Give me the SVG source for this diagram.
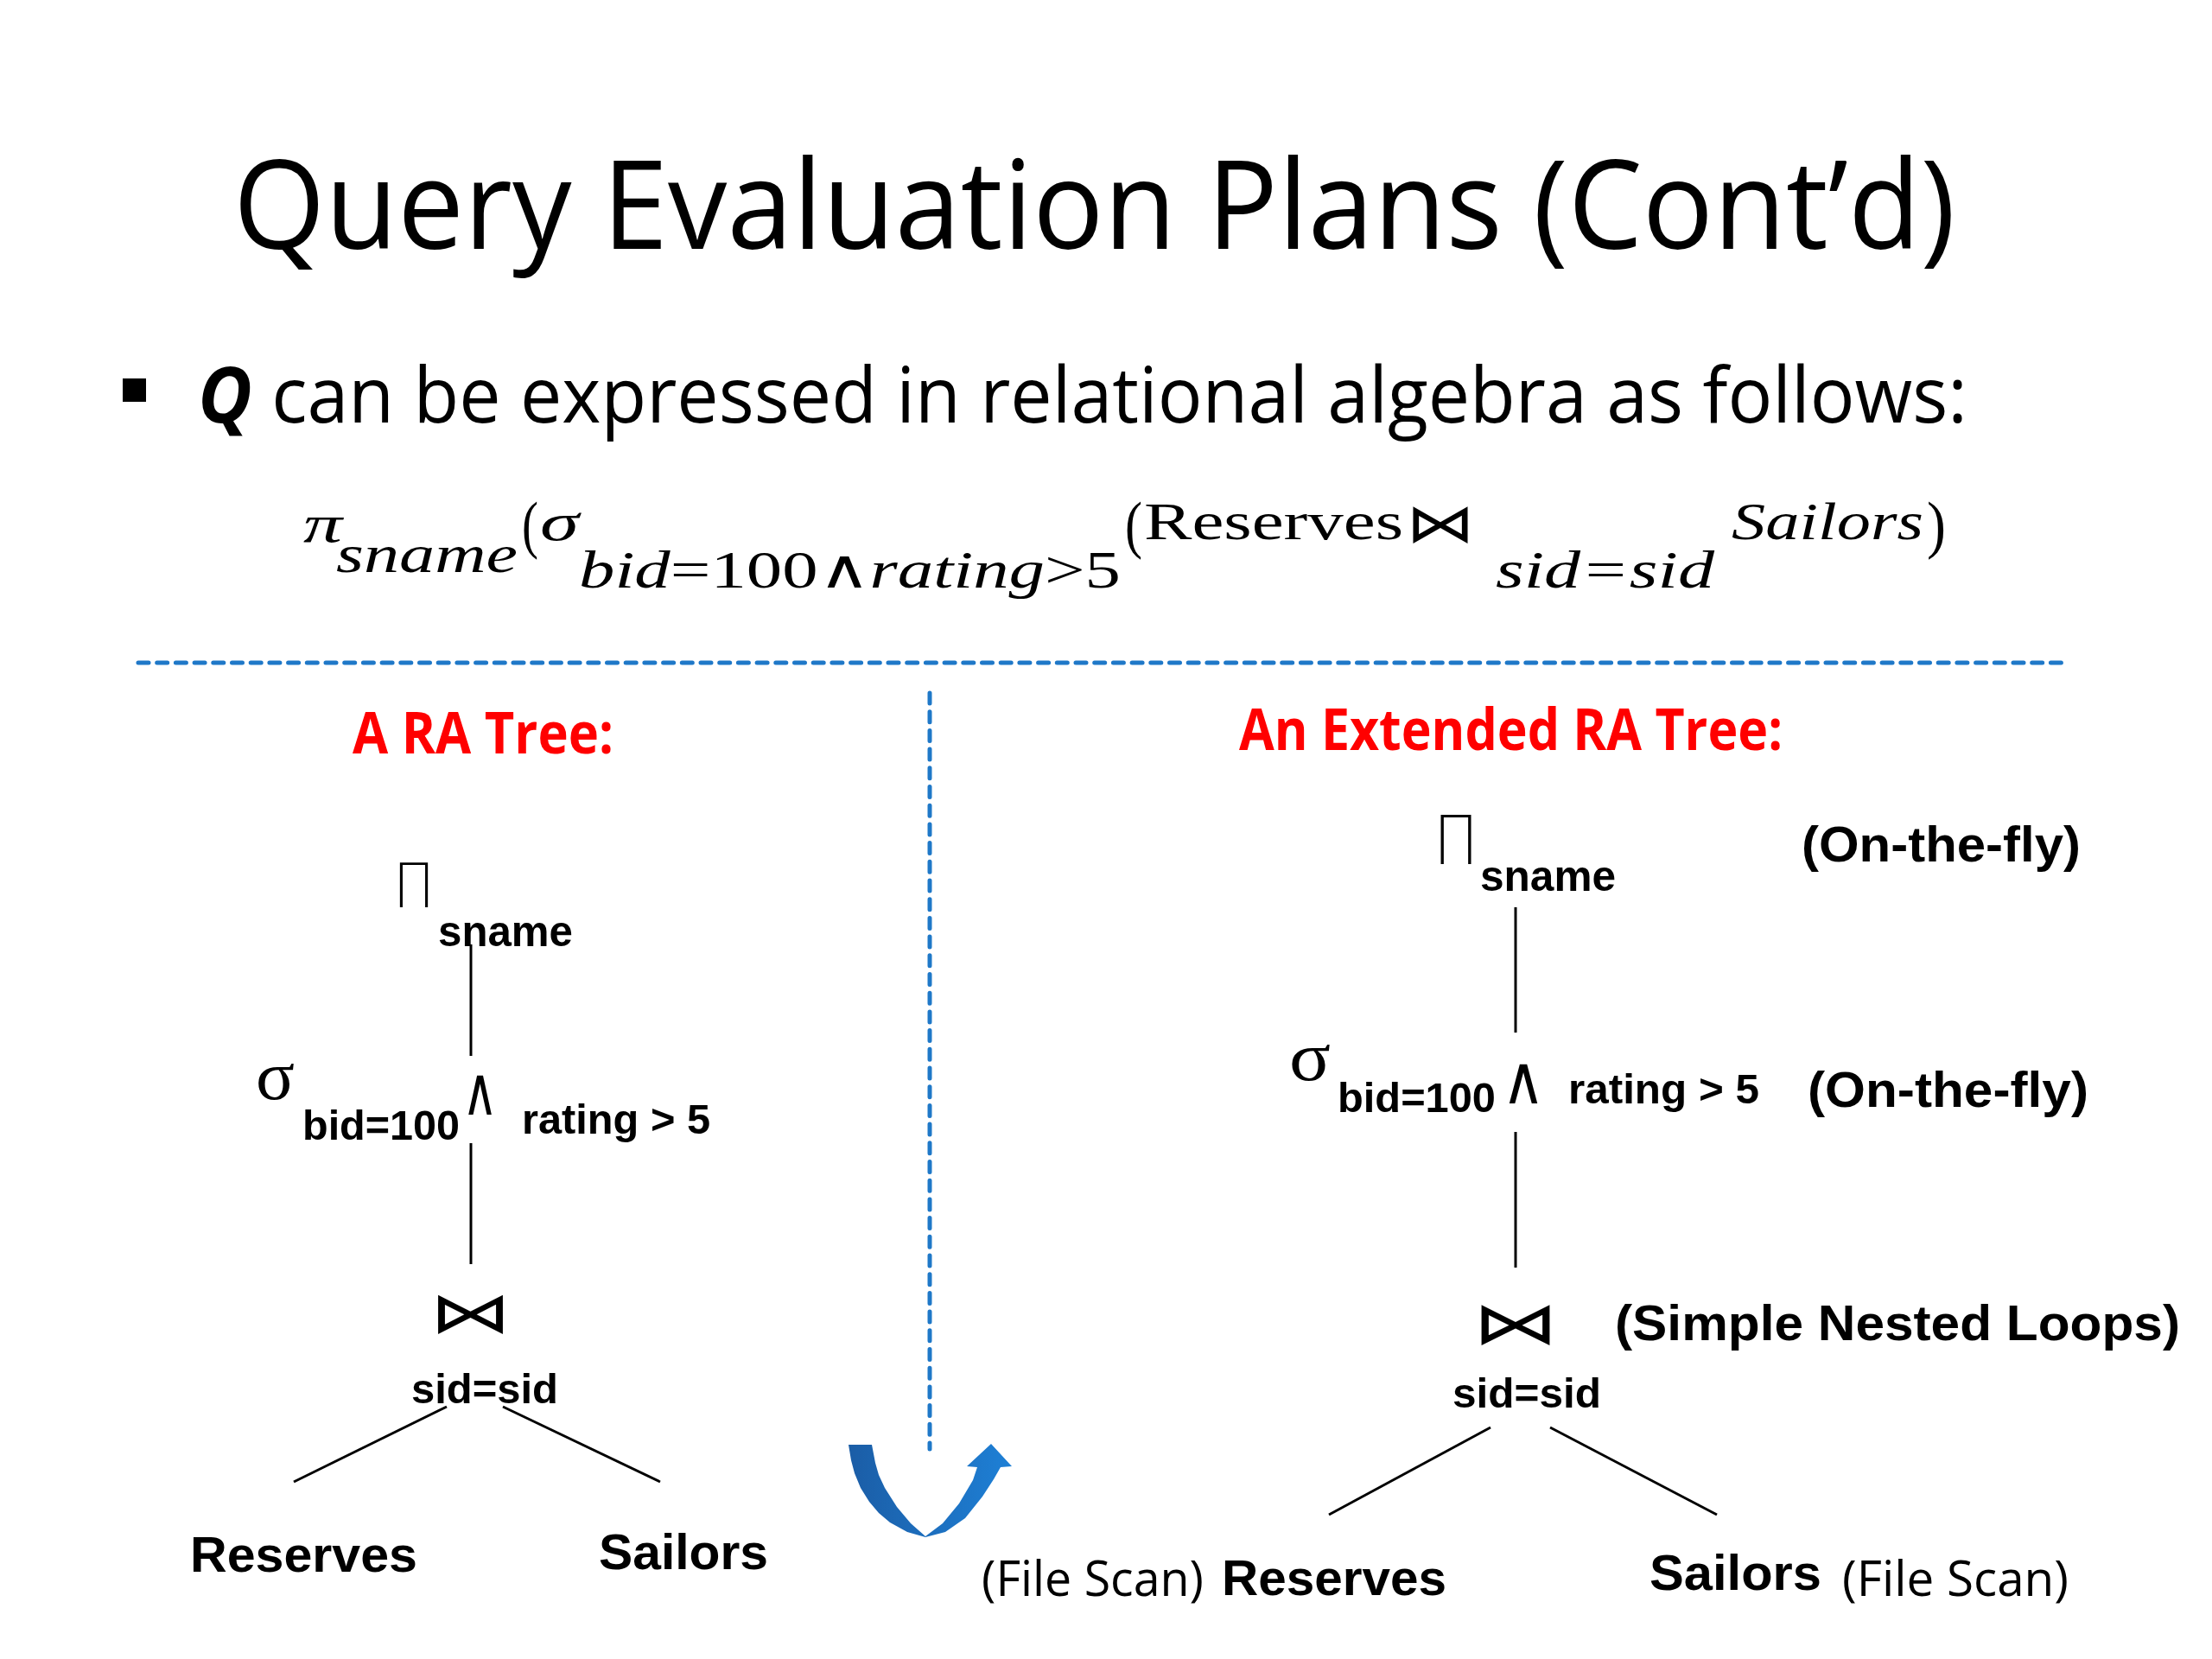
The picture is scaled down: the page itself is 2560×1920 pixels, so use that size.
<svg xmlns="http://www.w3.org/2000/svg" width="2560" height="1920" viewBox="0 0 2560 1920">
<defs>
<style>
.title{font-family:"Open Sans","Liberation Sans",sans-serif;fill:#000}
.red{font-family:"Open Sans","Liberation Sans",sans-serif;font-weight:bold;fill:#FF0000}
.lbl{font-family:"Liberation Sans",Arial,sans-serif;font-weight:bold;fill:#000}
.cal{font-family:"Open Sans","Liberation Sans",sans-serif;fill:#000}
.math{font-family:"Liberation Serif","Times New Roman",serif;fill:#000}
.it{font-style:italic}
.sym{font-family:"DejaVu Sans",sans-serif;font-weight:200;fill:#000}
.sig{font-family:"Liberation Serif",serif;fill:#000}
.edge{stroke:#000;stroke-width:3;fill:none}
.dash{stroke:#1F78C8;stroke-width:5;fill:none;stroke-linecap:round;stroke-dasharray:12 9.7}
</style>
<linearGradient id="ag" x1="0" y1="0" x2="1" y2="0">
<stop offset="0" stop-color="#1B5DA6"/>
<stop offset="1" stop-color="#1E80D6"/>
</linearGradient>
</defs>
<rect width="2560" height="1920" fill="#fff"/>

<g id="title">
<text class="title" x="270" y="288" font-size="142" textLength="1993" lengthAdjust="spacingAndGlyphs">Query Evaluation Plans (Cont’d)</text>
</g>

<g id="bullet">
<rect x="142" y="438" width="27" height="27" fill="#000"/>
<text class="title" x="229" y="489" font-size="90" textLength="2048" lengthAdjust="spacingAndGlyphs"><tspan font-weight="bold" font-style="italic">Q</tspan> can be expressed in relational algebra as follows:</text>
</g>

<g id="formula" class="math">
<text class="it" x="351" y="627" font-size="62" textLength="45" lengthAdjust="spacingAndGlyphs">π</text>
<text class="it" x="389" y="662" font-size="62" textLength="210" lengthAdjust="spacingAndGlyphs">sname</text>
<text x="604" y="632" font-size="74" textLength="19" lengthAdjust="spacingAndGlyphs">(</text>
<text class="it" x="625" y="625" font-size="62" textLength="45" lengthAdjust="spacingAndGlyphs">σ</text>
<text x="670" y="680" font-size="62" textLength="627" lengthAdjust="spacingAndGlyphs"><tspan font-style="italic">bid</tspan>=100∧<tspan font-style="italic">rating</tspan>&gt;5</text>
<text x="1302" y="632" font-size="74" textLength="20" lengthAdjust="spacingAndGlyphs">(</text>
<text x="1324" y="624" font-size="62" textLength="300" lengthAdjust="spacingAndGlyphs">Reserves</text>
<text x="1627" y="627" font-size="62" textLength="80" lengthAdjust="spacingAndGlyphs">⋈</text>
<text class="it" x="1731" y="680" font-size="62" textLength="253" lengthAdjust="spacingAndGlyphs">sid=sid</text>
<text class="it" x="2004" y="624" font-size="62" textLength="222" lengthAdjust="spacingAndGlyphs">Sailors</text>
<text x="2230" y="632" font-size="74" textLength="22" lengthAdjust="spacingAndGlyphs">)</text>
</g>

<g id="dividers">
<line class="dash" x1="160" y1="767" x2="2392" y2="767"/>
<line class="dash" x1="1076" y1="802" x2="1076" y2="1677"/>
</g>

<g id="uturn-arrow">
<path fill="url(#ag)" d="M982,1672 L1009,1672 L1013,1693 L1017,1707 L1024,1722 L1038,1744 L1054,1763 L1071,1778 L1091,1763 L1110,1740 L1126,1713 L1131,1698 L1119,1697 L1147,1671 L1171,1697 L1158,1698 L1150,1712 L1137,1732 L1117,1757 L1094,1773 L1071,1779 L1050,1773 L1030,1762 L1017,1751 L1006,1738 L996,1722 L989,1705 L985,1690 Z"/>
</g>

<g id="label-ra-tree"><text class="red" x="408" y="872" font-size="66" textLength="302" lengthAdjust="spacingAndGlyphs">A RA Tree:</text></g>
<g id="label-ext-tree"><text class="red" x="1434" y="868" font-size="66" textLength="629" lengthAdjust="spacingAndGlyphs">An Extended RA Tree:</text></g>

<!-- Left tree nodes -->
<g id="L-project">
<text class="sym" x="455" y="1050" font-size="72" textLength="48" lengthAdjust="spacingAndGlyphs">Π</text>
<text class="lbl" x="507" y="1095" font-size="50" textLength="156" lengthAdjust="spacingAndGlyphs">sname</text>
</g>
<g id="L-select">
<text class="sig" x="296" y="1272" font-size="80" textLength="45" lengthAdjust="spacingAndGlyphs">σ</text>
<text class="lbl" x="350" y="1319" font-size="49" textLength="182" lengthAdjust="spacingAndGlyphs">bid=100</text>
<text class="sym" x="535" y="1290" font-size="78" textLength="41" lengthAdjust="spacingAndGlyphs">∧</text>
<text class="lbl" x="604" y="1312" font-size="49" textLength="218" lengthAdjust="spacingAndGlyphs">rating &gt; 5</text>
</g>
<g id="L-join">
<text class="sym" x="497" y="1542" font-size="66" textLength="95" lengthAdjust="spacingAndGlyphs">⋈</text>
<text class="lbl" x="476" y="1624" font-size="49" textLength="170" lengthAdjust="spacingAndGlyphs">sid=sid</text>
</g>
<g id="L-reserves"><text class="lbl" x="220" y="1819" font-size="58" textLength="263" lengthAdjust="spacingAndGlyphs">Reserves</text></g>
<g id="L-sailors"><text class="lbl" x="693" y="1816" font-size="58" textLength="196" lengthAdjust="spacingAndGlyphs">Sailors</text></g>

<!-- Right tree nodes -->
<g id="R-project">
<text class="sym" x="1659" y="1000" font-size="78" textLength="52" lengthAdjust="spacingAndGlyphs">Π</text>
<text class="lbl" x="1713" y="1031" font-size="50" textLength="157" lengthAdjust="spacingAndGlyphs">sname</text>
<text class="lbl" x="2085" y="997" font-size="58" textLength="323" lengthAdjust="spacingAndGlyphs">(On-the-fly)</text>
</g>
<g id="R-select">
<text class="sig" x="1492" y="1250" font-size="80" textLength="48" lengthAdjust="spacingAndGlyphs">σ</text>
<text class="lbl" x="1548" y="1287" font-size="49" textLength="183" lengthAdjust="spacingAndGlyphs">bid=100</text>
<text class="sym" x="1738" y="1277" font-size="78" textLength="50" lengthAdjust="spacingAndGlyphs">∧</text>
<text class="lbl" x="1815" y="1277" font-size="49" textLength="221" lengthAdjust="spacingAndGlyphs">rating &gt; 5</text>
<text class="lbl" x="2092" y="1281" font-size="58" textLength="325" lengthAdjust="spacingAndGlyphs">(On-the-fly)</text>
</g>
<g id="R-join">
<text class="sym" x="1704" y="1555" font-size="68" textLength="100" lengthAdjust="spacingAndGlyphs">⋈</text>
<text class="lbl" x="1869" y="1551" font-size="58" textLength="654" lengthAdjust="spacingAndGlyphs">(Simple Nested Loops)</text>
<text class="lbl" x="1681" y="1629" font-size="49" textLength="172" lengthAdjust="spacingAndGlyphs">sid=sid</text>
</g>
<g id="R-reserves">
<text class="cal" x="1136" y="1847" font-size="56" textLength="257" lengthAdjust="spacingAndGlyphs">(File Scan)</text>
<text class="lbl" x="1414" y="1846" font-size="58" textLength="260" lengthAdjust="spacingAndGlyphs">Reserves</text>
</g>
<g id="R-sailors">
<text class="lbl" x="1909" y="1840" font-size="58" textLength="199" lengthAdjust="spacingAndGlyphs">Sailors</text>
<text class="cal" x="2132" y="1847" font-size="56" textLength="262" lengthAdjust="spacingAndGlyphs">(File Scan)</text>
</g>

<g id="connectors">
<line class="edge" x1="545" y1="1093" x2="545" y2="1222"/>
<line class="edge" x1="545" y1="1323" x2="545" y2="1463"/>
<line class="edge" x1="517" y1="1628" x2="340" y2="1715"/>
<line class="edge" x1="582" y1="1628" x2="764" y2="1715"/>
<line class="edge" x1="1754" y1="1050" x2="1754" y2="1195"/>
<line class="edge" x1="1754" y1="1310" x2="1754" y2="1467"/>
<line class="edge" x1="1725" y1="1652" x2="1538" y2="1753"/>
<line class="edge" x1="1794" y1="1652" x2="1987" y2="1753"/>
</g>
</svg>
